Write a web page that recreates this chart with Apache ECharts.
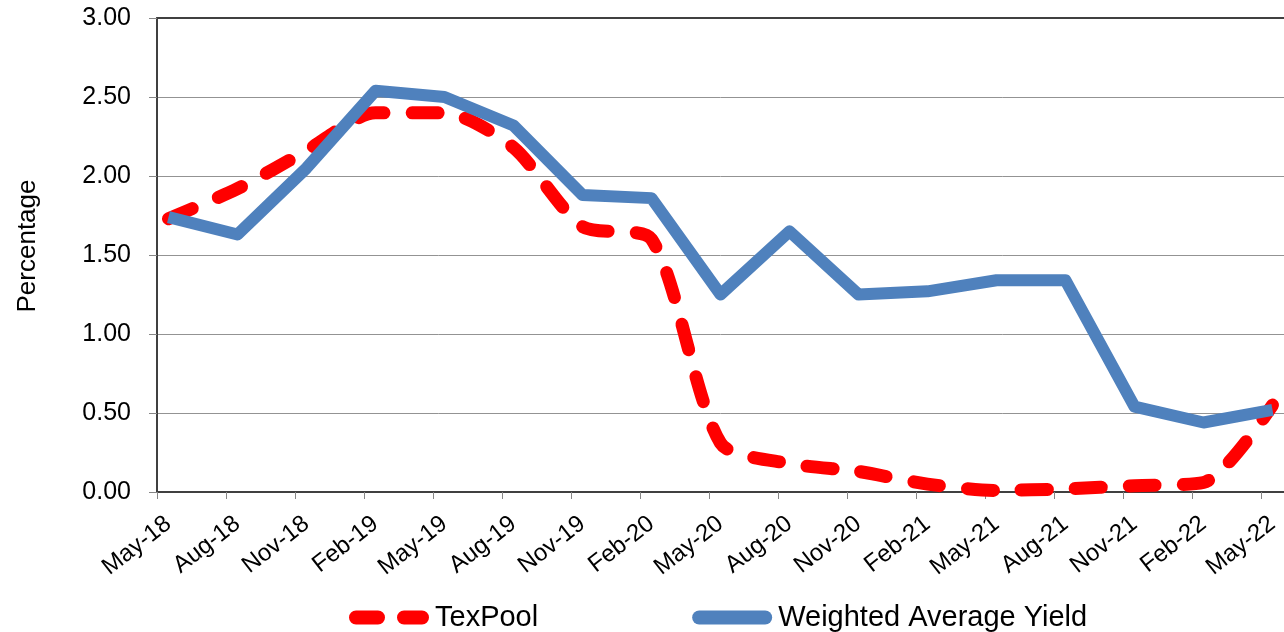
<!DOCTYPE html>
<html>
<head>
<meta charset="utf-8">
<title>TexPool vs Weighted Average Yield</title>
<script src="https://cdn.jsdelivr.net/npm/echarts@6/dist/echarts.min.js"></script>
<style>
    html, body { margin: 0; padding: 0; background: #ffffff; }
    #chart { width: 1284px; height: 632px; }
</style>
</head>
<body>
<div id="chart"></div>
<script>
// Quarterly tick labels (one point per quarter)
const tickLabels = ['May-18', 'Aug-18', 'Nov-18', 'Feb-19', 'May-19', 'Aug-19', 'Nov-19', 'Feb-20',
    'May-20', 'Aug-20', 'Nov-20', 'Feb-21', 'May-21', 'Aug-21', 'Nov-21', 'Feb-22', 'May-22'];

// Series values (percent)
const texPool = [1.73, 1.92, 2.16, 2.40, 2.40, 2.18, 1.68, 1.60,
    0.31, 0.18, 0.13, 0.05, 0.01, 0.02, 0.04, 0.06, 0.55];
const weightedAvgYield = [1.74, 1.63, 2.05, 2.54, 2.50, 2.32, 1.88, 1.86,
    1.25, 1.65, 1.25, 1.27, 1.34, 1.34, 0.54, 0.44, 0.52];

const yTicks = [0, 0.5, 1, 1.5, 2, 2.5, 3];

// The axis runs month by month; each quarter's value sits in the middle of its month
const monthsPerStep = 3;
const months = [];
tickLabels.forEach((label, q) => {
    months.push(label);
    if (q < tickLabels.length - 1) {
        for (let k = 1; k < monthsPerStep; k++) months.push(label + '+' + k);
    }
});

function spread(values) {
    return months.map((m, i) => (i % monthsPerStep === 0 ? values[i / monthsPerStep] : '-'));
}

const isQuarter = (index) => index % monthsPerStep === 0;

// legend keys: two rounded dashes / one rounded bar, 80x14
const dashedKey = 'path://M7,0 H29 A7,7 0 0 1 29,14 H7 A7,7 0 0 1 7,0 Z M55,0 H73 A7,7 0 0 1 73,14 H55 A7,7 0 0 1 55,0 Z';
const solidKey = 'path://M7,0 H73 A7,7 0 0 1 73,14 H7 A7,7 0 0 1 7,0 Z';

const chart = echarts.init(document.getElementById('chart'));

const option = {
    backgroundColor: '#ffffff',
    animation: false,
    textStyle: { fontFamily: 'Liberation Sans, Arial, sans-serif' },
    grid: { left: 157, right: -2, top: 18, bottom: 140, containLabel: false },
    legend: {
        left: 344,
        top: 598,
        itemWidth: 80,
        itemHeight: 14,
        itemGap: 154,
        textStyle: { fontSize: 29, color: '#000000', padding: [0, 0, 0, 1] },
        data: [
            { name: 'TexPool', icon: dashedKey, itemStyle: { color: '#ff0000', borderWidth: 0 } },
            { name: 'Weighted Average Yield', icon: solidKey, itemStyle: { color: '#4f81bd', borderWidth: 0 } }
        ]
    },
    xAxis: [{
        type: 'category',
        data: months,
        boundaryGap: true,
        axisLine: { lineStyle: { color: '#404040', width: 2 } },
        axisTick: { show: true, interval: isQuarter, alignWithLabel: false, length: 7, lineStyle: { color: '#868686' } },
        axisLabel: { interval: isQuarter, rotate: 38, margin: 29, fontSize: 24, color: '#000000' },
        splitLine: { show: false }
    }, {
        type: 'category',
        position: 'top',
        data: months,
        axisLine: { lineStyle: { color: '#404040', width: 2 } },
        axisTick: { show: false },
        axisLabel: { show: false }
    }],
    yAxis: {
        type: 'value',
        min: yTicks[0],
        max: yTicks[yTicks.length - 1],
        interval: 0.5,
        name: 'Percentage',
        nameLocation: 'middle',
        nameGap: 116,
        nameTextStyle: { fontSize: 26, color: '#000000', padding: [0, 0, 0, 18] },
        axisLine: { show: true, lineStyle: { color: '#404040', width: 2 } },
        axisTick: { show: true, length: 8, lineStyle: { color: '#868686' } },
        axisLabel: { fontSize: 25, color: '#000000', margin: 26, formatter: (v) => v.toFixed(2) },
        splitLine: { lineStyle: { color: '#939393', width: 1 } }
    },
    series: [{
        name: 'TexPool',
        type: 'line',
        data: spread(texPool),
        connectNulls: true,
        smooth: 0.25,
        symbol: 'none',
        lineStyle: { color: '#ff0000', width: 13, type: [26, 28], cap: 'round', join: 'round' },
        itemStyle: { color: '#ff0000' }
    }, {
        name: 'Weighted Average Yield',
        type: 'line',
        data: spread(weightedAvgYield),
        connectNulls: true,
        symbol: 'none',
        lineStyle: { color: '#4f81bd', width: 12, join: 'round' },
        itemStyle: { color: '#4f81bd' }
    }]
};

chart.setOption(option);
</script>
</body>
</html>
